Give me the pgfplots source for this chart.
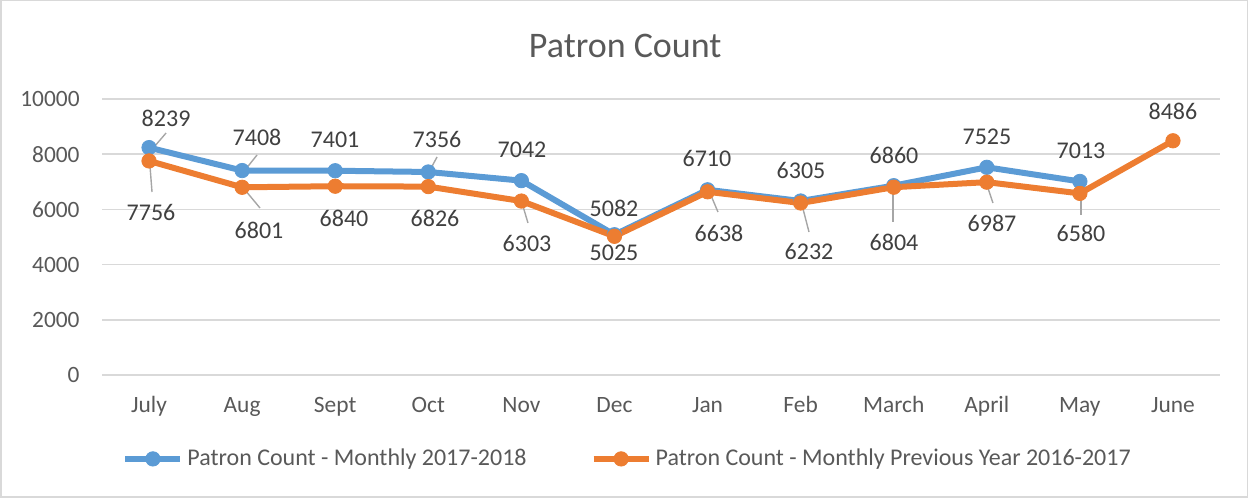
\documentclass[border=0pt]{standalone}
\usepackage{pgfplots}
\pgfplotsset{compat=1.18}
\usepackage{fontspec}
\setmainfont{Carlito}
\definecolor{cblue}{HTML}{5B9BD5}
\definecolor{corange}{HTML}{ED7D31}
\definecolor{cgrid}{HTML}{D9D9D9}
\definecolor{ctext}{HTML}{595959}
\definecolor{clbl}{HTML}{404040}
\definecolor{clead}{HTML}{A6A6A6}
\tikzset{
  lbl/.style={font=\fontsize{12}{14}\selectfont, text=clbl, inner sep=0pt, anchor=center},
  ld/.style={clead, line width=0.7pt},
}
\begin{document}
\begin{tikzpicture}
\useasboundingbox (0,0) rectangle (624pt,249pt);
\draw[cgrid, line width=0.75pt] (0.375pt,0.375pt) rectangle (623.625pt,248.625pt);
\begin{axis}[
  at={(51.25pt,61.5pt)}, anchor=south west,
  scale only axis, width=558.5pt, height=138pt,
  xmin=-0.5, xmax=11.5, ymin=0, ymax=10000,
  xtick={0,...,11},
  xticklabels={July,Aug,Sept,Oct,Nov,Dec,Jan,Feb,March,April,May,June},
  ytick={0,2000,...,10000},
  scaled y ticks=false,
  axis line style={draw=none},
  ymajorgrids, grid style={cgrid, line width=0.75pt},
  major tick length=0pt,
  tick style={draw=none},
  ticklabel style={font=\fontsize{11.7}{14}\selectfont, text=ctext},
  /pgf/number format/assume math mode=true,
  /pgf/number format/1000 sep={},
  xticklabel style={anchor=base, inner sep=0pt, yshift=-18.5pt},
  yticklabel style={anchor=east, inner sep=0pt, xshift=-11.25pt},
  legend columns=2,
  legend style={at={(axis description cs:0.471,-0.304)}, anchor=center, draw=none, fill=none,
    font=\fontsize{12}{14}\selectfont, text=ctext, inner sep=0pt,
    nodes={inner xsep=2pt},
    /tikz/every even column/.append style={column sep=30pt}},
  legend image code/.code={\draw[#1, mark repeat=2, mark phase=2] plot coordinates {(0pt,0pt) (13.75pt,0pt) (27.5pt,0pt)};},
  clip=false,
]
\addplot[cblue, line width=3pt, mark=*, mark size=3.6pt, mark options={solid, line width=0.4pt, fill=cblue, draw=cblue}]
  coordinates {(0,8239) (1,7408) (2,7401) (3,7356) (4,7042) (5,5082) (6,6710) (7,6305) (8,6860) (9,7525) (10,7013)};
\addlegendentry{Patron Count - Monthly 2017-2018}
\addplot[corange, line width=3pt, mark=*, mark size=3.6pt, mark options={solid, line width=0.4pt, fill=corange, draw=corange}]
  coordinates {(0,7756) (1,6801) (2,6840) (3,6826) (4,6303) (5,5025) (6,6638) (7,6232) (8,6804) (9,6987) (10,6580) (11,8486)};
\addlegendentry{Patron Count - Monthly Previous Year 2016-2017}
% leader lines
\draw[ld] (axis cs:0.054,8261) -- (axis cs:0.183,8768);
\draw[ld] (axis cs:1.031,7428) -- (axis cs:1.160,7971);
\draw[ld] (axis cs:3.019,7428) -- (axis cs:3.094,7899);
\draw[ld] (axis cs:0.011,7536) -- (axis cs:0.032,6630);
\draw[ld] (axis cs:1.031,6703) -- (axis cs:1.192,6051);
\draw[ld] (axis cs:4.007,6232) -- (axis cs:4.071,5507);
\draw[ld] (axis cs:6.026,6594) -- (axis cs:6.112,5906);
\draw[ld] (axis cs:7.015,6159) -- (axis cs:7.090,5181);
\draw[ld] (axis cs:7.992,6775) -- (axis cs:7.992,5543);
\draw[ld] (axis cs:9.002,6884) -- (axis cs:9.066,6232);
\draw[ld] (axis cs:10.012,6594) -- (axis cs:10.012,5797);
% blue labels
\node[lbl] at (axis cs:0.183,9312) {8239};
\node[lbl] at (axis cs:1.160,8623) {7408};
\node[lbl] at (axis cs:1.998,8514) {7401};
\node[lbl] at (axis cs:3.094,8551) {7356};
\node[lbl] at (axis cs:4.007,8152) {7042};
\node[lbl] at (axis cs:4.995,6051) {5082};
\node[lbl] at (axis cs:5.994,7862) {6710};
\node[lbl] at (axis cs:7.004,7428) {6305};
\node[lbl] at (axis cs:8.003,7971) {6860};
\node[lbl] at (axis cs:9.002,8623) {7525};
\node[lbl] at (axis cs:10.012,8116) {7013};
% orange labels
\node[lbl] at (axis cs:0.021,5906) {7756};
\node[lbl] at (axis cs:1.182,5254) {6801};
\node[lbl] at (axis cs:2.095,5688) {6840};
\node[lbl] at (axis cs:3.072,5688) {6826};
\node[lbl] at (axis cs:4.061,4783) {6303};
\node[lbl] at (axis cs:4.995,4420) {5025};
\node[lbl] at (axis cs:6.123,5145) {6638};
\node[lbl] at (axis cs:7.090,4493) {6232};
\node[lbl] at (axis cs:8.003,4819) {6804};
\node[lbl] at (axis cs:9.056,5507) {6987};
\node[lbl] at (axis cs:10.012,5145) {6580};
\node[lbl] at (axis cs:11.0,9565) {8486};
% title
\node[anchor=base, font=\fontsize{18}{22}\selectfont, text=ctext] at (axis description cs:0.468,1.152) {Patron Count};
\end{axis}
\end{tikzpicture}
\end{document}
